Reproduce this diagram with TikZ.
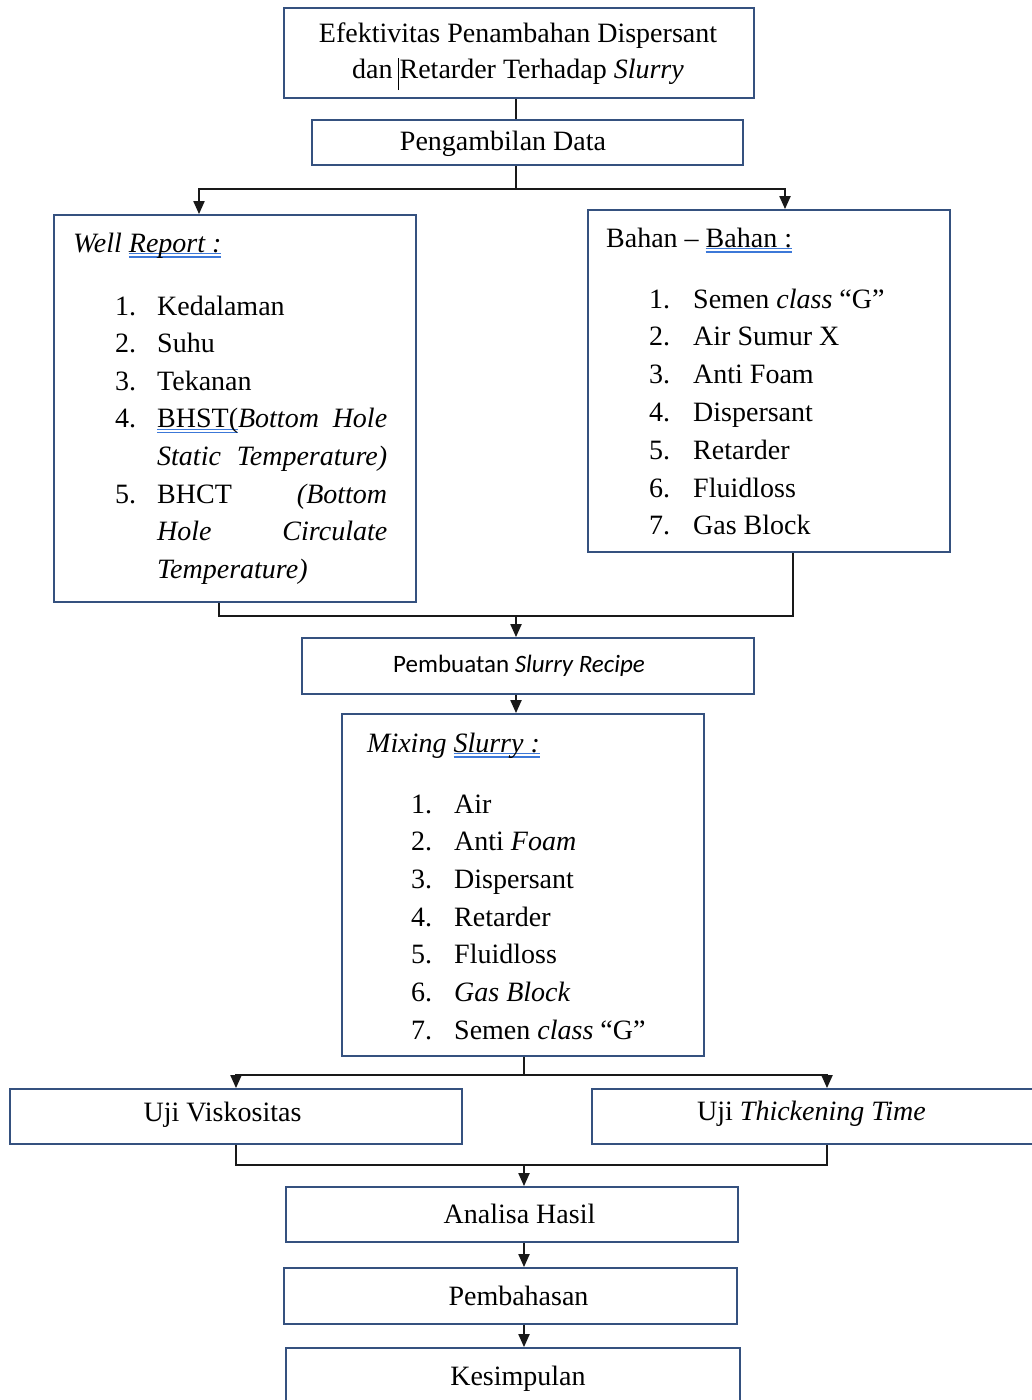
\documentclass[tikz,border=0pt]{standalone}
\usepackage{fontspec}
\setmainfont{Liberation Serif}
\newfontfamily\calib{Carlito}
\usetikzlibrary{arrows.meta}
\definecolor{boxblue}{HTML}{35517F}
\definecolor{spellblue}{HTML}{3C78D8}
\newsavebox\spbox
\newcommand\spellu[1]{\sbox\spbox{#1}\makebox[0pt][l]{\color{spellblue}\rule[-2pt]{\wd\spbox}{1.2pt}\hspace{-\wd\spbox}\rule[-5.5pt]{\wd\spbox}{1.2pt}}\usebox\spbox}
\begin{document}
\begin{tikzpicture}[x=1pt,y=-1pt,
  font=\fontsize{28}{34}\selectfont,
  box/.style={draw=boxblue, line width=1.8pt, fill=white, inner sep=0pt},
  txt/.style={inner sep=0pt, anchor=base},
  item/.style={inner sep=0pt, anchor=base west},
  conn/.style={line width=2pt, black!90},
  arr/.style={conn, -{Triangle[length=13pt,width=11pt]}}]
\useasboundingbox (0,0) rectangle (1032,1400);
\clip (0,0) rectangle (1032,1400);
\fill[white] (0,0) rectangle (1032,1400);

% boxes
\node[box, minimum width=470pt, minimum height=90pt] (title) at (519,53) {};
\node[box, minimum width=431pt, minimum height=45pt] (peng) at (527.5,142.5) {};
\node[box, minimum width=362pt, minimum height=387pt] (well) at (235,408.5) {};
\node[box, minimum width=362pt, minimum height=342pt] (bahan) at (769,381) {};
\node[box, minimum width=452pt, minimum height=56pt] (pemb) at (528,666) {};
\node[box, minimum width=362pt, minimum height=342pt] (mix) at (523,885) {};
\node[box, minimum width=452pt, minimum height=55pt] (ujiv) at (236,1116.5) {};
\node[box, minimum width=452pt, minimum height=55pt] (ujit) at (818,1116.5) {};
\node[box, minimum width=452pt, minimum height=55pt] (anal) at (512,1214.5) {};
\node[box, minimum width=453pt, minimum height=56pt] (pembh) at (510.5,1296) {};
\node[box, minimum width=454pt, minimum height=60pt] (kes) at (513,1378) {};

% texts
\node[txt] (t1) at (518,42) {Efektivitas Penambahan Dispersant};
\node[txt] (t2) at (518,78) {dan \makebox[0pt][r]{\rule[-12pt]{1pt}{32pt}\hspace{1pt}}Retarder Terhadap \textit{Slurry}};
\node[txt] (tpeng) at (503,150) {Pengambilan Data};
\node[txt, font=\calib\fontsize{25}{30}\selectfont] (tpemb) at (519,672) {Pembuatan \textit{Slurry Recipe}};
\node[txt] (tujiv) at (222.5,1121) {Uji Viskositas};
\node[txt] (tujit) at (811.5,1120) {Uji \textit{Thickening Time}};
\node[txt] (tanal) at (519.5,1223) {Analisa Hasil};
\node[txt] (tpembh) at (518.5,1305) {Pembahasan};
\node[txt] (tkes) at (518,1385) {Kesimpulan};

% Well report list
\node[item] (wh) at (73,252) {\textit{Well \spellu{Report :}}};
\node[item] (w1n) at (115,315) {1.};
\node[item] (w1) at (157,315) {Kedalaman};
\node[item] (w2n) at (115,352.6) {2.};
\node[item] (w2) at (157,352.6) {Suhu};
\node[item] (w3n) at (115,390.2) {3.};
\node[item] (w3) at (157,390.2) {Tekanan};
\node[item] (w4n) at (115,427.8) {4.};
\node[item] (w4) at (157,427.8) {\makebox[230pt][s]{\spellu{BHST(}\textit{Bottom Hole}}};
\node[item] (w4b) at (157,465.4) {\makebox[230pt][s]{\textit{Static Temperature)}}};
\node[item] (w5n) at (115,503) {5.};
\node[item] (w5) at (157,503) {\makebox[230pt][s]{BHCT \textit{(Bottom}}};
\node[item] (w5b) at (157,540.6) {\makebox[230pt][s]{\textit{Hole Circulate}}};
\node[item] (w5c) at (157,578.2) {\textit{Temperature)}};

% Bahan list
\node[item] (bh) at (606,247) {Bahan – \spellu{Bahan :}};
\foreach \t [count=\i] in {Semen \textit{class} “G”, Air Sumur X, Anti Foam, Dispersant, Retarder, Fluidloss, Gas Block}{
  \node[item] (b\i n) at (649,{308+37.8*(\i-1)}) {\i.};
  \node[item] (b\i) at (693,{308+37.8*(\i-1)}) {\t};
}

% Mixing list
\node[item] (mh) at (367,752) {\textit{Mixing \spellu{Slurry :}}};
\foreach \t [count=\i] in {Air, Anti \textit{Foam}, Dispersant, Retarder, Fluidloss, \textit{Gas Block}, Semen \textit{class} “G”}{
  \node[item] (m\i n) at (411,{813+37.7*(\i-1)}) {\i.};
  \node[item] (m\i) at (454,{813+37.7*(\i-1)}) {\t};
}

% connectors
\coordinate (j1) at (516,189);
\coordinate (j1l) at (199,189);
\coordinate (j1r) at (785,189);
\draw[conn] (title.south -| j1) -- (peng.north -| j1);
\draw[conn] (peng.south -| j1) -- (j1);
\draw[arr] (j1) -| (well.north -| j1l);
\draw[arr] (j1) -| (bahan.north -| j1r);

\coordinate (j2) at (516,616);
\coordinate (j2l) at (219,616);
\coordinate (j2r) at (793,616);
\draw[conn] (well.south -| j2l) -- (j2l) -- (j2r) -- (bahan.south -| j2r);
\draw[arr] (j2) -- (pemb.north -| j2);
\draw[arr] (pemb.south -| j2) -- (mix.north -| j2);

\coordinate (j3) at (524,1075);
\coordinate (j3l) at (236,1075);
\coordinate (j3r) at (827,1075);
\draw[conn] (mix.south -| j3) -- (j3);
\draw[arr] (j3) -| (ujiv.north -| j3l);
\draw[arr] (j3) -| (ujit.north -| j3r);

\coordinate (j4) at (524,1165);
\coordinate (j4l) at (236,1165);
\coordinate (j4r) at (827,1165);
\draw[conn] (ujiv.south -| j4l) -- (j4l) -- (j4r) -- (ujit.south -| j4r);
\draw[arr] (j4) -- (anal.north -| j4);
\draw[arr] (anal.south -| j4) -- (pembh.north -| j4);
\draw[arr] (pembh.south -| j4) -- (kes.north -| j4);
\end{tikzpicture}
\end{document}
